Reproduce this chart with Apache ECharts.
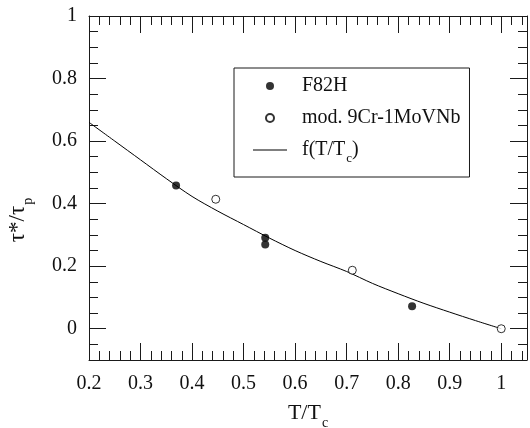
<!DOCTYPE html>
<html>
<head>
<meta charset="utf-8">
<script src="https://cdn.jsdelivr.net/npm/echarts@6/dist/echarts.min.js"></script>
<style>html,body{margin:0;padding:0;background:#fff;}#c{width:530px;height:428px;}</style>
</head>
<body>
<div id="c"></div>
<script>
// ---- data ----
const f82hT = [0.369, 0.542, 0.542, 0.827];
const f82hV = [0.458, 0.291, 0.269, 0.072];
const mod9crT = [0.446, 0.711, 1.0];
const mod9crV = [0.414, 0.187, 0.0];
const curveT = [0.2, 0.25, 0.3, 0.35, 0.4, 0.45, 0.5, 0.55, 0.6, 0.65, 0.7, 0.75, 0.8, 0.85, 0.9, 0.95, 1.0];
const curveV = [0.66, 0.60, 0.54, 0.48, 0.423, 0.376, 0.333, 0.29, 0.25, 0.215, 0.183, 0.145, 0.112, 0.081, 0.053, 0.026, 0.0];
const xRange = [0.2, 1.05];
const yRange = [-0.1, 1.0];
const xMajor = 0.1, xMinor = 0.02;
const yMajor = 0.2, yMinor = 0.05;
const seriesNames = ['F82H', 'mod. 9Cr-1MoVNb', 'f(T/Tc)'];

const FONT = 'Liberation Serif';
const INK = '#1a1a1a';
const zip = (a, b) => a.map((v, i) => [v, b[i]]);

function xAx(pos, major) {
  return {
    type: 'value', position: pos, min: xRange[0], max: xRange[1],
    interval: major ? xMajor : xMinor,
    axisLine: { show: major, onZero: false, lineStyle: { color: INK, width: 1 } },
    axisTick: { show: true, inside: true, length: major ? 17 : 9, lineStyle: { color: INK, width: 1 } },
    axisLabel: { show: major && pos === 'bottom', margin: 14, fontFamily: FONT, fontSize: 20, color: '#111', showMaxLabel: false },
    splitLine: { show: false }
  };
}
function yAx(pos, major) {
  const o = {
    type: 'value', position: pos, min: yRange[0], max: yRange[1],
    axisLine: { show: major, onZero: false, lineStyle: { color: INK, width: 1 } },
    axisTick: { show: true, inside: true, length: major ? 17 : 9, lineStyle: { color: INK, width: 1 } },
    axisLabel: { show: major && pos === 'left', margin: 12, fontFamily: FONT, fontSize: 20, color: '#111', showMinLabel: false },
    splitLine: { show: false }
  };
  if (major) { o.splitNumber = Math.round((yRange[1] - yRange[0]) / yMajor); } else { o.interval = yMinor; }
  return o;
}

const xAxes = [xAx('bottom', true), xAx('bottom', false), xAx('top', true), xAx('top', false)];
xAxes[0].name = '{n|T/T}{s|c}';
xAxes[0].nameLocation = 'middle';
xAxes[0].nameGap = 42;
xAxes[0].nameTextStyle = {
  rich: {
    n: { fontFamily: FONT, fontSize: 22, color: '#111', verticalAlign: 'top', lineHeight: 22 },
    s: { fontFamily: FONT, fontSize: 14, color: '#111', verticalAlign: 'top', lineHeight: 14, padding: [14, 0, 0, 1] }
  }
};
const yAxes = [yAx('left', true), yAx('left', false), yAx('right', true), yAx('right', false)];
yAxes[0].name = '{n|τ*/τ}{s|p}';
yAxes[0].nameLocation = 'middle';
yAxes[0].nameGap = 60;
yAxes[0].nameTextStyle = {
  padding: [0, 64, 0, 0],
  rich: {
    n: { fontFamily: FONT, fontSize: 23, color: '#111', verticalAlign: 'top', lineHeight: 23 },
    s: { fontFamily: FONT, fontSize: 14, color: '#111', verticalAlign: 'top', lineHeight: 14, padding: [15, 0, 0, 1] }
  }
};

const chart = echarts.init(document.getElementById('c'), null, { renderer: 'canvas' });
chart.setOption({
  animation: false,
  backgroundColor: '#fff',
  grid: { left: 89, right: 3, top: 16, bottom: 68, containLabel: false, outerBoundsMode: 'none' },
  xAxis: xAxes,
  yAxis: yAxes,
  legend: {
    orient: 'vertical', left: 234, top: 68,
    padding: [8, 9, 12, 19],
    itemWidth: 34, itemHeight: 8, itemGap: 12,
    borderColor: INK, borderWidth: 1,
    selectedMode: false,
    textStyle: {
      fontFamily: FONT, fontSize: 20, color: '#111', padding: [0, 0, 0, 10],
      rich: {
        n: { fontFamily: FONT, fontSize: 20, color: '#111', verticalAlign: 'top', lineHeight: 20 },
        s: { fontFamily: FONT, fontSize: 13, color: '#111', verticalAlign: 'top', lineHeight: 13, padding: [12, 0, 0, 1] }
      }
    },
    formatter: function (name) {
      return name === seriesNames[2] ? '{n|f(T/T}{s|c}{n|)}' : name;
    },
    data: [seriesNames[0], seriesNames[1], { name: seriesNames[2], icon: 'path://M0,0H34V1H0Z' }]
  },
  series: [
    {
      name: seriesNames[0], type: 'scatter', symbol: 'circle', symbolSize: 8,
      itemStyle: { color: '#000' }, data: zip(f82hT, f82hV), z: 5
    },
    {
      name: seriesNames[1], type: 'scatter', symbol: 'circle', symbolSize: 8,
      itemStyle: { color: '#fff', borderColor: '#000', borderWidth: 1 }, data: zip(mod9crT, mod9crV), z: 5
    },
    {
      name: seriesNames[2], type: 'line', symbol: 'none', smooth: 0.3,
      lineStyle: { color: '#000', width: 1 }, itemStyle: { color: '#000' },
      data: zip(curveT, curveV), z: 3
    }
  ]
});
</script>
</body>
</html>
